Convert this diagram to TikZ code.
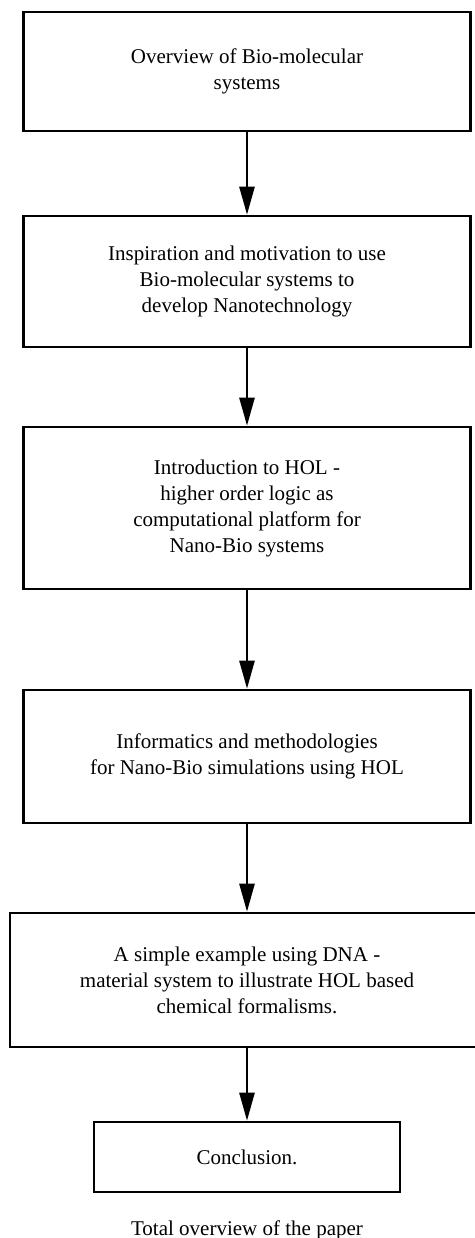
\documentclass[tikz,border=0pt]{standalone}
\usepackage{fontspec}
\setmainfont{Liberation Serif}
\usetikzlibrary{arrows.meta}

\tikzset{
  stagebox/.style={draw, line width=2.6pt, align=center, inner sep=0pt,
    font=\fontsize{21}{26}\selectfont},
  flowarrow/.style={line width=2.6pt, -{Triangle[length=28pt,width=15pt]}}
}

\begin{document}
\begin{tikzpicture}[x=1pt,y=1pt]
  \useasboundingbox (0,0) rectangle (474,-1238);

  \node[stagebox, minimum width=447pt, minimum height=119pt] (overview) at (247,-71.5)
    {Overview of Bio-molecular\\systems};
  \node[stagebox, minimum width=447pt, minimum height=131pt] (inspiration) at (247,-281.5)
    {Inspiration and motivation to use\\Bio-molecular systems to\\develop Nanotechnology};
  \node[stagebox, minimum width=447pt, minimum height=162pt] (hol) at (247,-508)
    {Introduction to HOL -\\higher order logic as\\computational platform for\\Nano-Bio systems};
  \node[stagebox, minimum width=447pt, minimum height=133pt] (informatics) at (247,-756.5)
    {Informatics and methodologies\\for Nano-Bio simulations using HOL};
  \node[stagebox, minimum width=474pt, minimum height=134pt] (dnaexample) at (247,-980)
    {A simple example using DNA -\\material system to illustrate HOL based\\chemical formalisms.};
  \node[stagebox, minimum width=306pt, minimum height=70pt] (conclusion) at (247,-1157)
    {Conclusion.};

  \node[font=\fontsize{21}{26}\selectfont, anchor=base, inner sep=0pt] (caption) at (247,-1235)
    {Total overview of the paper};

  \foreach \from/\to in {overview/inspiration, inspiration/hol, hol/informatics,
                         informatics/dnaexample, dnaexample/conclusion} {
    \draw[flowarrow] (\from.south) -- (\to.north);
  }
\end{tikzpicture}
\end{document}
